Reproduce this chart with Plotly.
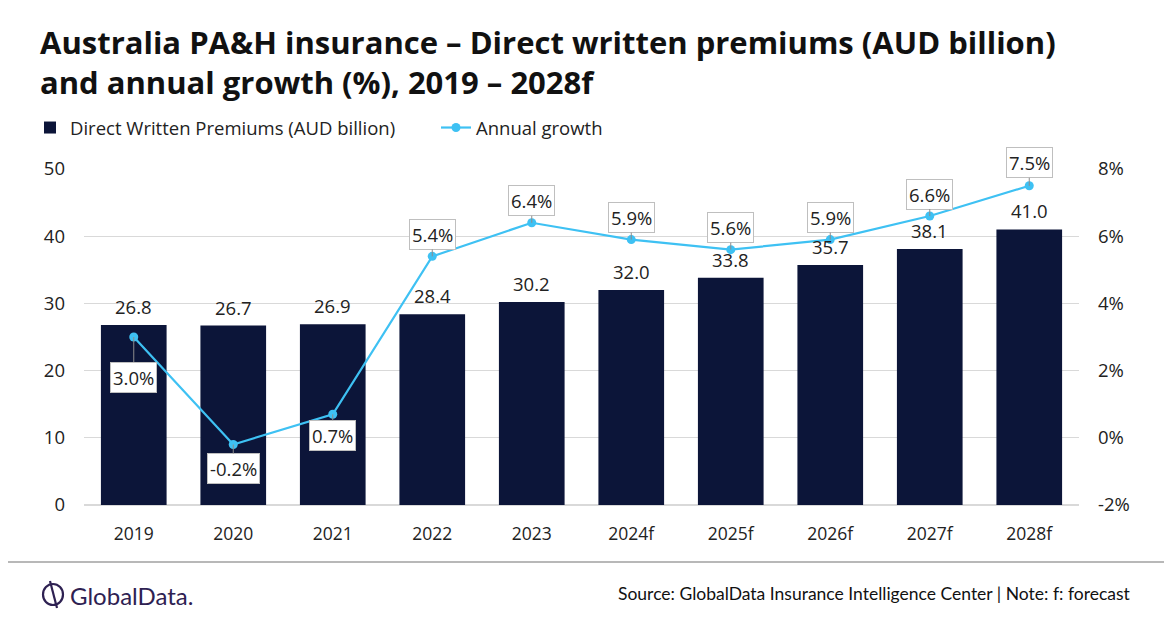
import plotly.graph_objects as go

years = ["2019", "2020", "2021", "2022", "2023", "2024f", "2025f", "2026f", "2027f", "2028f"]
premiums = [26.8, 26.7, 26.9, 28.4, 30.2, 32.0, 33.8, 35.7, 38.1, 41.0]
growth = [3.0, -0.2, 0.7, 5.4, 6.4, 5.9, 5.6, 5.9, 6.6, 7.5]
left_ticks = [0, 10, 20, 30, 40, 50]
right_ticks = [-2, 0, 2, 4, 6, 8]

# label offsets (pixels) for growth labels
growth_label_ay = [40, 24, 21, -22, -22, -22, -22, -22, -22, -23]

BAR = "#0C1539"
LINE = "#3EC1F3"
FONT = "Open Sans"
TXT = "#222222"
FS = 18.5

W, H = 1172, 628
OFF = 8  # page offset of the figure in the screenshot
L, R, T, B = 84 - OFF, 93 + OFF, 169 - OFF, 123 + OFF
pw, ph = W - L - R, H - T - B

def px(x):
    return (x - OFF - L) / pw

def py(y):
    return (H - B - (y - OFF)) / ph

fig = go.Figure()
fig.add_trace(go.Bar(
    x=years, y=premiums, name="Direct Written Premiums (AUD billion)",
    marker=dict(color=BAR, line=dict(width=0)), width=0.66, yaxis="y",
    hoverinfo="skip",
))
fig.add_trace(go.Scatter(
    x=years, y=growth, name="Annual growth", yaxis="y2", mode="lines+markers",
    line=dict(color=LINE, width=2.2), marker=dict(color=LINE, size=9),
    hoverinfo="skip",
))

ann = []
for i, v in enumerate(premiums):
    ann.append(dict(x=i, y=v, xref="x", yref="y", text=f"{v:.1f}", showarrow=False,
                    yanchor="bottom", yshift=4, font=dict(family=FONT, size=FS, color=TXT)))
for i, (g, ay) in enumerate(zip(growth, growth_label_ay)):
    ann.append(dict(x=i, y=g, xref="x", yref="y2", text=f"{g:.1f}%", showarrow=True,
                    arrowhead=0, arrowwidth=1, arrowcolor="#8c8c8c", ax=0, ay=ay,
                    bgcolor="white", bordercolor="#bfbfbf", borderwidth=1, borderpad=2,
                    font=dict(family=FONT, size=FS, color=TXT)))

# title
ann.append(dict(xref="paper", yref="paper", x=px(38), y=py(62), xanchor="left", yanchor="middle",
                align="left", showarrow=False,
                text="<b>Australia PA&H insurance – Direct written premiums (AUD billion)<br>"
                     "and annual growth (%), 2019 – 2028f</b>",
                font=dict(family="Open Sans", size=31, color="#111111")))
# source
ann.append(dict(xref="paper", yref="paper", x=px(1133), y=py(593), xanchor="right", yanchor="middle",
                showarrow=False,
                text="Source: GlobalData Insurance Intelligence Center | Note: f: forecast",
                font=dict(family="Lato", size=17.5, color="#111111")))
# logo text
ann.append(dict(xref="paper", yref="paper", x=px(68), y=py(595), xanchor="left", yanchor="middle",
                showarrow=False, text="GlobalData.",
                font=dict(family="Lato", size=24, color="#2E2152")))

shapes = [
    dict(type="line", xref="paper", yref="paper", x0=px(0), x1=px(W + 10), y0=py(562), y1=py(562),
         line=dict(color="#a0a0a0", width=1.5)),
    dict(type="circle", xref="paper", yref="paper", x0=px(43), x1=px(63), y0=py(605), y1=py(584),
         line=dict(color="#2E2152", width=2.2)),
    dict(type="line", xref="paper", yref="paper", x0=px(50), x1=px(57), y0=py(581), y1=py(608),
         line=dict(color="#2E2152", width=2.2)),
]

fig.update_layout(
    width=W, height=H, margin=dict(l=L, r=R, t=T, b=B),
    paper_bgcolor="white", plot_bgcolor="white",
    font=dict(family=FONT, size=FS, color=TXT),
    showlegend=True,
    legend=dict(orientation="h", x=px(30), y=py(128), xanchor="left", yanchor="middle",
                font=dict(family=FONT, size=FS, color=TXT), itemwidth=30, tracegroupgap=0,
                entrywidthmode="pixels", entrywidth=361),
    xaxis=dict(type="category", categoryarray=years, categoryorder="array", range=[-0.5, 9.5],
               showgrid=False, showline=False, ticks="",
               tickfont=dict(family=FONT, size=FS - 1, color=TXT), ticklabelstandoff=16),
    yaxis=dict(range=[0, 50], tickvals=left_ticks, showgrid=True, gridcolor="#d9d9d9",
               gridwidth=1, zeroline=True, zerolinecolor="#d9d9d9", showline=False,
               tickfont=dict(family=FONT, size=FS, color=TXT), ticklabelstandoff=18),
    yaxis2=dict(range=[-2, 8], tickvals=right_ticks, ticktext=[f"{v}%" for v in right_ticks],
                overlaying="y", side="right",
                showgrid=False, zeroline=False, showline=False,
                tickfont=dict(family=FONT, size=FS, color=TXT), ticklabelstandoff=18),
    annotations=ann, shapes=shapes,
)

fig.write_html("out.html")
